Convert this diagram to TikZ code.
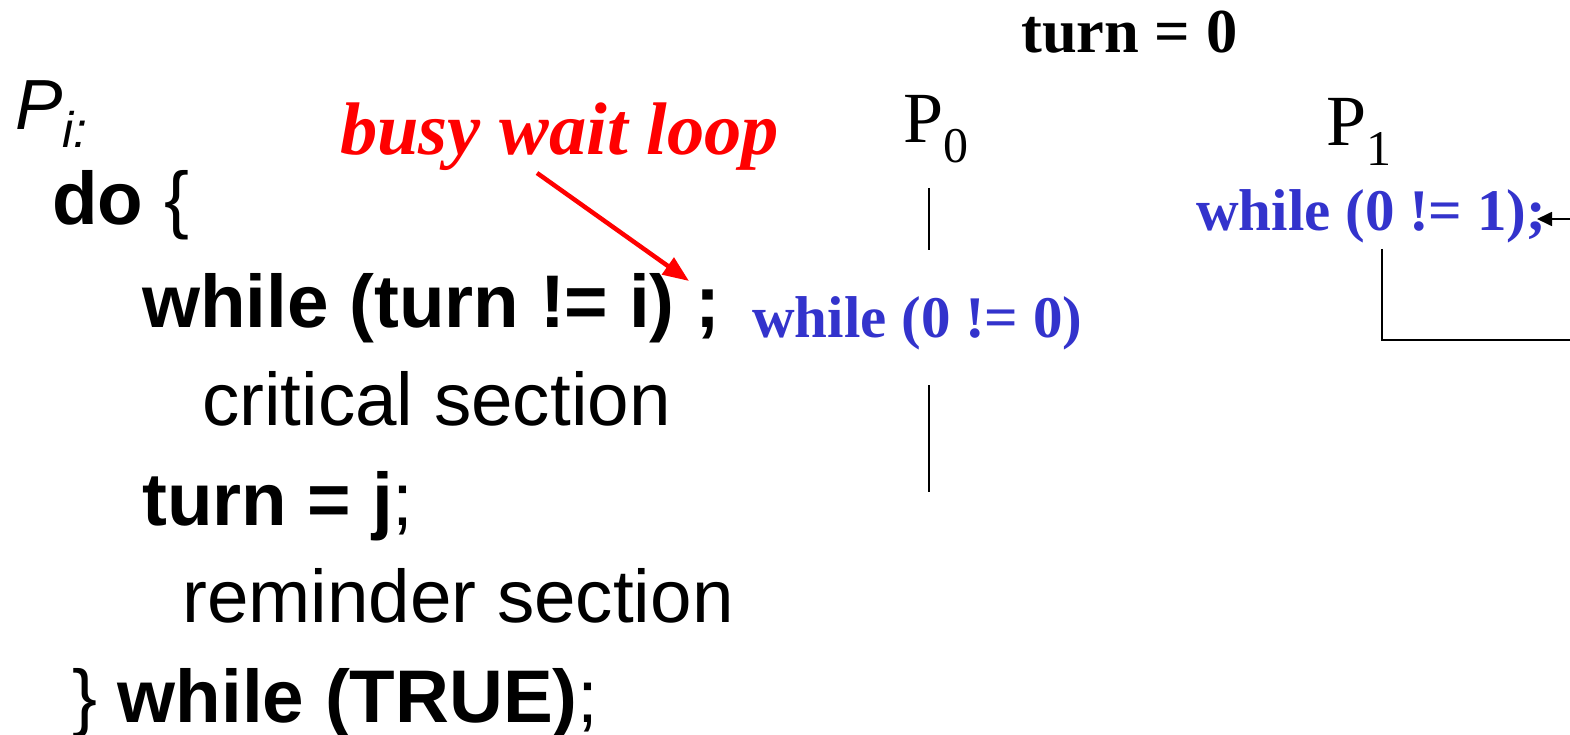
\documentclass[tikz,border=0pt]{standalone}
\usepackage{fontspec}
\setmainfont{Liberation Serif}
\newfontfamily\arial{Liberation Sans}
\usetikzlibrary{arrows.meta}
\definecolor{codeblue}{RGB}{51,51,204}
\begin{document}
\begin{tikzpicture}[x=1pt,y=-1pt,
  code/.style={anchor=base west, inner sep=0pt, font=\arial\fontsize{74.6}{80}\selectfont},
  trace/.style={anchor=base west, inner sep=0pt, text=codeblue, font=\fontsize{59}{64}\selectfont\bfseries},
  proc/.style={anchor=base west, inner sep=0pt, font=\fontsize{72}{76}\selectfont},
  thin line/.style={line width=1.6pt, black},
  redarrow/.style={line width=4.5pt, red, -{Triangle[length=26pt,width=20pt]}},
  blackarrow/.style={line width=1.8pt, black, -{Triangle[length=15pt,width=14pt]}}
]
\useasboundingbox (0,0) rectangle (1570,735);
\fill[white] (0,0) rectangle (1570,735);

% left code
\node[code, font=\arial\fontsize{71}{76}\selectfont] (pi) at (15,130) {\textit{P}\raisebox{-18pt}{\fontsize{50}{52}\selectfont\textit{i:}}};
\node[code] (do) at (52,225) {\textbf{do} \{};
\node[code] (wh) at (142,327) {\textbf{while (turn != i) ;}};
\node[code] (cs) at (202,425) {critical section};
\node[code] (tj) at (142,525) {\textbf{turn = j};};
\node[code] (rs) at (182,622) {reminder section};
\node[code] (wt) at (72,722) {\} \textbf{while (TRUE)};};

% busy wait loop
\node[anchor=base west, inner sep=0pt, text=red, font=\fontsize{74.5}{78}\selectfont\bfseries\itshape] (busy) at (340,155) {busy wait loop};
\coordinate (busytail) at (537,173);
\coordinate (busytip) at (689,281);
\draw[redarrow] (busytail) -- (busytip);

% turn = 0
\node[anchor=base west, inner sep=0pt, font=\fontsize{62.5}{66}\selectfont\bfseries] (turn) at (1021,53) {turn = 0};

% P0 column
\node[proc] (p0) at (903,143) {P\raisebox{-20pt}{\fontsize{50}{52}\selectfont 0}};
\node[trace] (w0) at (752,337) {while (0 != 0)};
\coordinate (a1) at (929,188);
\coordinate (a2) at (929,250);
\coordinate (a3) at (929,385);
\coordinate (a4) at (929,492);
\draw[thin line] (a1) -- (a2);
\draw[thin line] (a3) -- (a4);

% P1 column
\node[proc] (p1) at (1326,146) {P\raisebox{-20pt}{\fontsize{50}{52}\selectfont 1}};
\node[trace] (w1) at (1196,231) {while (0 != 1);};
\coordinate (b1) at (1382,249);
\coordinate (b2) at (1382,340);
\coordinate (b3) at (1570,340);
\coordinate (c1) at (1570,219);
\coordinate (c2) at (1537,219);
\draw[line width=1.8pt] (b1) -- (b2) -- (b3);
\draw[blackarrow] (c1) -- (c2);
\end{tikzpicture}
\end{document}
